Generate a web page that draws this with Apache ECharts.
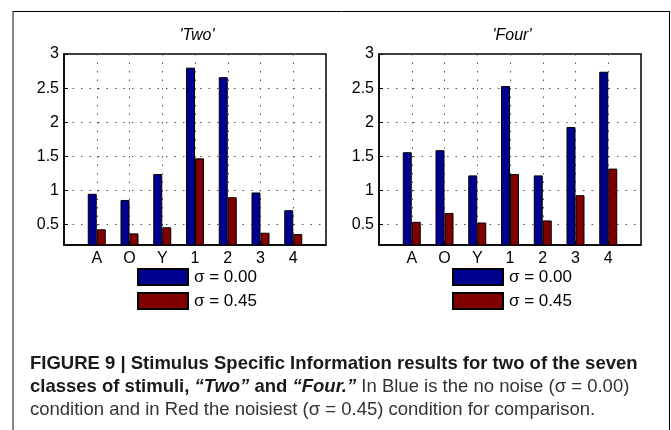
<!DOCTYPE html>
<html>
<head>
<meta charset="utf-8">
<script src="https://cdn.jsdelivr.net/npm/echarts@6/dist/echarts.min.js"></script>
<style>
  html, body { margin: 0; padding: 0; background: #fff; }
  #chart { width: 671px; height: 430px; }
</style>
</head>
<body>
<div id="chart"></div>
<script>
// Stimulus classes along the x axis
const categories = ['A', 'O', 'Y', '1', '2', '3', '4'];

// Stimulus Specific Information, class "Two"
const twoNoNoise = [0.95, 0.86, 1.24, 2.80, 2.66, 0.97, 0.71];
const twoNoisiest = [0.43, 0.37, 0.46, 1.47, 0.90, 0.38, 0.36];

// Stimulus Specific Information, class "Four"
const fourNoNoise = [1.56, 1.59, 1.22, 2.53, 1.22, 1.93, 2.74];
const fourNoisiest = [0.54, 0.67, 0.53, 1.24, 0.56, 0.93, 1.32];

const yTicks = [0.5, 1, 1.5, 2, 2.5, 3];
const panelTitles = ["'Two'", "'Four'"];
const seriesNames = ['\u03c3 = 0.00', '\u03c3 = 0.45'];

const BLUE = '#000090';
const RED = '#800000';
const FONT = '"Liberation Sans", Arial, sans-serif';

// bars sit at x = 1..7 on a 0..8 value axis
const toPoints = arr => arr.map((v, i) => [i + 1, v]);
const xPositions = categories.map((c, i) => i + 1);

const grids = [
  { left: 64, top: 54, width: 262, height: 191 },
  { left: 379, top: 54, width: 262, height: 191 }
];

const gridLine = { color: '#555', type: [1.5, 7], width: 1 };

function xAxis(idx) {
  return {
    type: 'value', gridIndex: idx, min: 0, max: 8, interval: 1,
    axisLine: { show: true, onZero: false, lineStyle: { color: '#000', width: 1.5 } },
    axisTick: { show: true, inside: true, length: 4, customValues: xPositions, lineStyle: { color: '#000' } },
    axisLabel: {
      customValues: xPositions,
      formatter: v => categories[v - 1] || '',
      color: '#000', fontFamily: FONT, fontSize: 16, margin: 6
    },
    splitLine: { show: true, lineStyle: gridLine }
  };
}

function yAxis(idx) {
  return {
    type: 'value', gridIndex: idx, min: 0.2, max: 3,
    axisLine: { show: true, lineStyle: { color: '#000', width: 1.5 } },
    axisTick: { show: true, inside: true, length: 4, customValues: yTicks, lineStyle: { color: '#000' } },
    axisLabel: {
      customValues: yTicks,
      color: '#000', fontFamily: FONT, fontSize: 16, margin: 5
    },
    splitLine: { show: true, lineStyle: gridLine }
  };
}

function barSeries(name, data, idx, color) {
  return {
    type: 'bar', name: name, xAxisIndex: idx, yAxisIndex: idx,
    data: toPoints(data), barWidth: 9, barGap: '0%',
    itemStyle: { color: color, borderColor: '#000', borderWidth: 1 },
    emphasis: { disabled: true },
    clip: true
  };
}

function legend(left) {
  return {
    orient: 'vertical', left: left, top: 268, padding: 0,
    itemWidth: 50, itemHeight: 16, itemGap: 6,
    icon: 'rect', selectedMode: false,
    data: seriesNames,
    textStyle: { color: '#000', fontFamily: FONT, fontSize: 17, padding: [0, 0, 0, 1] }
  };
}

const titleStyle = { fontFamily: FONT, fontSize: 16, fontStyle: 'italic', fontWeight: 'normal', color: '#000' };

const chart = echarts.init(document.getElementById('chart'), null, { renderer: 'canvas' });

chart.setOption({
  animation: false,
  backgroundColor: '#fff',
  title: [
    { text: panelTitles[0], left: 197, top: 28, textAlign: 'center', padding: 0, textStyle: titleStyle },
    { text: panelTitles[1], left: 512, top: 28, textAlign: 'center', padding: 0, textStyle: titleStyle }
  ],
  grid: grids.map(g => Object.assign({ show: true, borderColor: '#000', borderWidth: 1.5, backgroundColor: 'transparent' }, g)),
  xAxis: [xAxis(0), xAxis(1)],
  yAxis: [yAxis(0), yAxis(1)],
  legend: [legend(137), legend(452)],
  series: [
    barSeries(seriesNames[0], twoNoNoise, 0, BLUE),
    barSeries(seriesNames[1], twoNoisiest, 0, RED),
    barSeries(seriesNames[0], fourNoNoise, 1, BLUE),
    barSeries(seriesNames[1], fourNoisiest, 1, RED)
  ],
  graphic: [
    // figure frame
    { type: 'line', shape: { x1: 13, y1: 11, x2: 13, y2: 430 }, style: { stroke: '#888', lineWidth: 2 } },
    { type: 'line', shape: { x1: 13, y1: 11.5, x2: 670, y2: 11.5 }, style: { stroke: '#000', lineWidth: 1 } },
    { type: 'line', shape: { x1: 669.5, y1: 11, x2: 669.5, y2: 430 }, style: { stroke: '#000', lineWidth: 1 } },
    // caption
    {
      type: 'text', left: 30, top: 354,
      style: {
        text: '{b|FIGURE 9 | Stimulus Specific Information results for two of the seven}\n' +
              '{b|classes of stimuli, }{bi|\u201cTwo\u201d}{b| and }{bi|\u201cFour.\u201d}{n| In Blue is the no noise (\u03c3 = 0.00)}\n' +
              '{n|condition and in Red the noisiest (\u03c3 = 0.45) condition for comparison.}',
        fill: '#222',
        fontFamily: FONT,
        fontSize: 18.5,
        rich: {
          b: { fontFamily: FONT, fontSize: 18.5, fontWeight: 'bold', fill: '#1a1a1a', lineHeight: 23 },
          bi: { fontFamily: FONT, fontSize: 18.5, fontWeight: 'bold', fontStyle: 'italic', fill: '#1a1a1a', lineHeight: 23 },
          n: { fontFamily: FONT, fontSize: 18.5, fill: '#333', lineHeight: 23 }
        }
      }
    }
  ]
});
</script>
</body>
</html>
